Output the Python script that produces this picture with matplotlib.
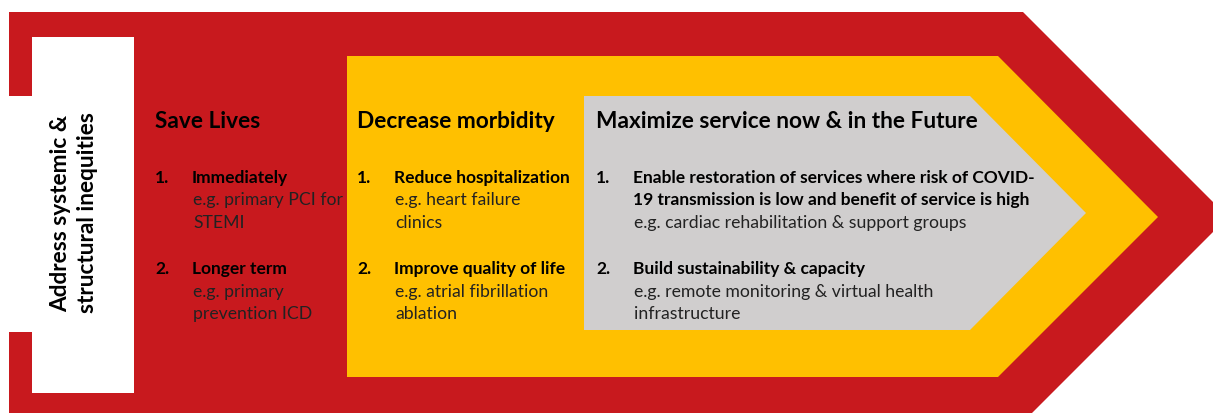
import matplotlib.pyplot as plt
from matplotlib.patches import Polygon

# text content
side_label = "Address systemic &\nstructural inequities"
titles = ["Save Lives", "Decrease morbidity", "Maximize service now & in the Future"]
item_heads = [
    ["Immediately", "Longer term"],
    ["Reduce hospitalization", "Improve quality of life"],
    ["Enable restoration of services where risk of COVID-\n19 transmission is low and benefit of service is high",
     "Build sustainability & capacity"],
]
item_examples = [
    ["e.g. primary PCI for\nSTEMI", "e.g. primary\nprevention ICD"],
    ["e.g. heart failure\nclinics", "e.g. atrial fibrillation\nablation"],
    ["e.g. cardiac rehabilitation & support groups", "e.g. remote monitoring & virtual health\ninfrastructure"],
]

RED = "#C8191E"
YELLOW = "#FFC000"
GREY = "#D0CECE"
FONT = "Lato"

fig = plt.figure(figsize=(12.13, 4.13), dpi=100)
ax = fig.add_axes([0, 0, 1, 1])
ax.set_xlim(0, 1213)
ax.set_ylim(413, 0)
ax.axis("off")

# nested arrow shapes (pixel coords, y down)
ax.add_patch(Polygon([(9, 12), (1023, 12), (1228, 217), (1023, 422), (9, 422)], closed=True, color=RED, lw=0))
ax.add_patch(Polygon([(347, 56), (998, 56), (1158, 217), (998, 377), (347, 377)], closed=True, color=YELLOW, lw=0))
ax.add_patch(Polygon([(584, 96), (970, 96), (1086, 213), (970, 330), (584, 330)], closed=True, color=GREY, lw=0))

# white label box with notch on left
ax.add_patch(Polygon([(32, 37), (134, 37), (134, 393), (32, 393)], closed=True, color="white", lw=0))
ax.add_patch(Polygon([(0, 96), (134, 96), (134, 332), (0, 332)], closed=True, color="white", lw=0))

ax.text(74, 213, side_label, rotation=90, ha="center", va="center", multialignment="center",
        fontsize=16.3, fontweight="bold", family=FONT, color="black", linespacing=1.3)

col_x = [155, 357, 596]
indent = 37
item_y = [183, 274]
step = 22.5

for c in range(3):
    x = col_x[c]
    ax.text(x, 128, titles[c], fontsize=16.3, fontweight="bold", family=FONT, va="baseline", color="black")
    for i in range(2):
        y = item_y[i]
        ax.text(x, y, "%d." % (i + 1), fontsize=12.5, fontweight="bold", family=FONT, va="baseline", color="black")
        for line in item_heads[c][i].split("\n"):
            ax.text(x + indent, y, line, fontsize=12.5, fontweight="bold", family=FONT, va="baseline", color="black")
            y += step
        for line in item_examples[c][i].split("\n"):
            ax.text(x + indent + 1, y, line, fontsize=12.7, family=FONT, va="baseline", color="#222222")
            y += step

fig.savefig("out.png", dpi=100)
